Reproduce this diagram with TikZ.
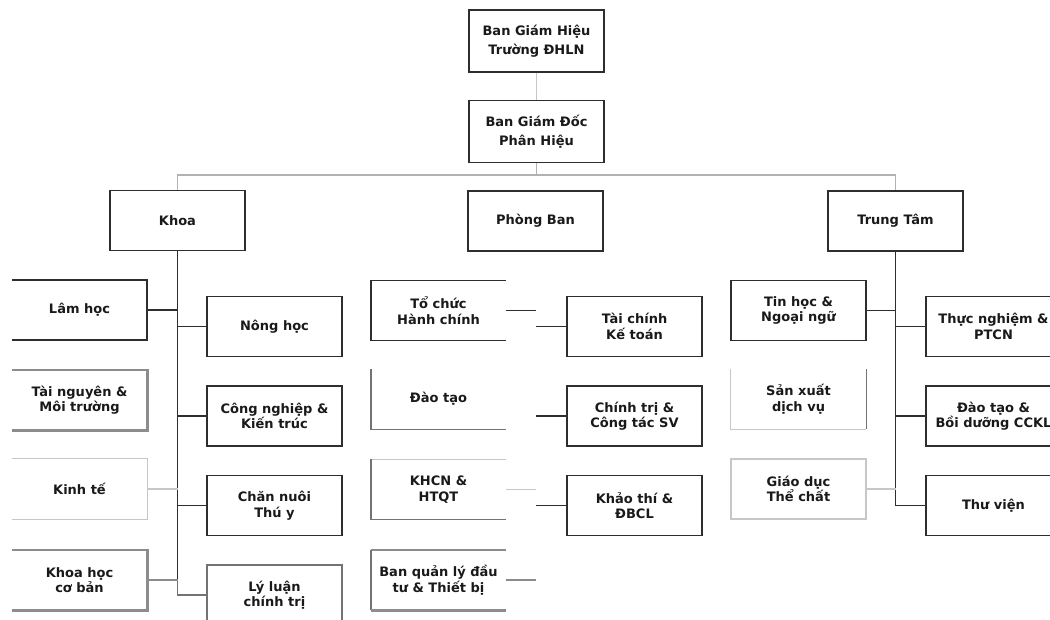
\documentclass[tikz,border=0pt]{standalone}
\usepackage{fontspec}
\setmainfont{DejaVu Sans}
\begin{document}
\begin{tikzpicture}[x=1pt,y=-1pt,
  box/.style={rectangle, minimum width=135pt, minimum height=60pt, inner sep=0pt, align=center,
    font=\fontsize{13}{15.5}\selectfont\bfseries, text=black!90},
  tallbox/.style={box, minimum height=62pt, font=\fontsize{13}{19}\selectfont\bfseries},
  blk/.style={draw=black!82, line width=1.5pt},
  mid/.style={draw=black!55, line width=1.4pt},
  gry/.style={draw=black!45, line width=2.6pt},
  lgt/.style={draw=black!22, line width=1.3pt},
  bus/.style={draw=black!30, line width=1.3pt}
]
\useasboundingbox (0,0) rectangle (1050,619);
\clip (0,0) rectangle (1050,619);

% top levels
\node[tallbox,blk] (bgh) at (536.5,41) {Ban Giám Hiệu\\Trường ĐHLN};
\node[tallbox,blk] (bgd) at (536.5,131.5) {Ban Giám Đốc\\Phân Hiệu};
\node[box,blk] (khoa) at (177.5,220.5) {Khoa};
\node[box,blk] (phong) at (535.5,221) {Phòng Ban};
\node[box,blk] (trung) at (895.5,221) {Trung Tâm};
\coordinate (busc) at (536.5,175);

% Khoa column
\node[box] (lam) at (79.5,310) {Lâm học};
\node[box] (tainguyen) at (79.5,400) {Tài nguyên \&\\Môi trường};
\node[box] (kinhte) at (79.5,489) {Kinh tế};
\node[box] (khcb) at (79.5,580) {Khoa học\\cơ bản};
\node[box,blk] (nong) at (274.5,326.5) {Nông học};
\node[box,blk] (cong) at (274.5,416) {Công nghiệp \&\\Kiến trúc};
\node[box,blk] (chan) at (274.5,505.5) {Chăn nuôi\\Thú y};
\node[box,mid] (lyluan) at (274.5,595) {Lý luận\\chính trị};

% Phong Ban column
\node[box] (tochuc) at (438.5,310.5) {Tổ chức\\Hành chính};
\node[box] (daotao) at (438.5,399) {Đào tạo};
\node[box] (khcn) at (438.5,489.5) {KHCN \&\\HTQT};
\node[box] (bql) at (438.5,580) {Ban quản lý đầu\\tư \& Thiết bị};
\node[box,blk] (taichinh) at (634.5,326.5) {Tài chính\\Kế toán};
\node[box,blk] (chinhtri) at (634.5,416) {Chính trị \&\\Công tác SV};
\node[box,blk] (khaothi) at (634.5,505.5) {Khảo thí \&\\ĐBCL};

% Trung Tam column
\node[box,blk] (tinhoc) at (798.5,310.5) {Tin học \&\\Ngoại ngữ};
\node[box] (sanxuat) at (798.5,399) {Sản xuất\\dịch vụ};
\node[box,lgt] (giaoduc) at (798.5,489) {Giáo dục\\Thể chất};
\node[box,blk] (thucnghiem) at (993.5,326.5) {Thực nghiệm \&\\PTCN};
\node[box,blk] (daotaobd) at (993.5,416) {Đào tạo \&\\Bồi dưỡng CCKL};
\node[box,blk] (thuvien) at (993.5,505.5) {Thư viện};

% partial borders
\draw[blk] (lam.north west) -- (lam.north east) -- (lam.south east) -- (lam.south west);
\draw[gry] (tainguyen.north west) -- (tainguyen.north east) -- (tainguyen.south east) -- (tainguyen.south west);
\draw[lgt] (kinhte.north west) -- (kinhte.north east) -- (kinhte.south east) -- (kinhte.south west);
\draw[gry] (khcb.north west) -- (khcb.north east) -- (khcb.south east) -- (khcb.south west);
\draw[blk] (tochuc.north east) -- (tochuc.north west) -- (tochuc.south west) -- (tochuc.south east);
\draw[mid] (daotao.north west) -- (daotao.south west) -- (daotao.south east);
\draw[lgt] (khcn.north west) -- (khcn.north east);
\draw[mid] (khcn.north west) -- (khcn.south west) -- (khcn.south east);
\draw[gry] (bql.north east) -- (bql.north west);
\draw[mid] (bql.north west) -- (bql.south west);
\draw[gry] (bql.south west) -- (bql.south east);
\draw[lgt] (sanxuat.north west) -- (sanxuat.south west) -- (sanxuat.south east);
\draw[mid] (sanxuat.south east) -- (sanxuat.north east);

% connectors top
\draw[lgt] (bgh.south) -- (bgd.north);
\draw[bus] (bgd.south) -- (busc);
\draw[bus] (khoa.north) |- (busc) -| (trung.north);

% Khoa connectors
\coordinate (kb) at (177.5,580);
\draw[blk] (khoa.south) -- (kb);
\draw[mid] (kb) |- (lyluan.west);
\draw[blk] (lam.east) -- (lam.east -| khoa.south);
\draw[blk] (nong.west) -- (nong.west -| khoa.south);
\draw[blk] (cong.west) -- (cong.west -| khoa.south);
\draw[lgt] (kinhte.east) -- (kinhte.east -| khoa.south);
\draw[blk] (chan.west) -- (chan.west -| khoa.south);
\draw[gry] (khcb.east) -- (khcb.east -| khoa.south);

% Phong Ban connectors (no trunk)
\draw[blk] (tochuc.east) -- (tochuc.east -| phong.south);
\draw[blk] (taichinh.west) -- (taichinh.west -| phong.south);
\draw[blk] (chinhtri.west) -- (chinhtri.west -| phong.south);
\draw[lgt] (khcn.east) -- (khcn.east -| phong.south);
\draw[blk] (khaothi.west) -- (khaothi.west -| phong.south);
\draw[gry] (bql.east) -- (bql.east -| phong.south);

% Trung Tam connectors
\draw[blk] (trung.south) |- (thuvien.west);
\draw[blk] (tinhoc.east) -- (tinhoc.east -| trung.south);
\draw[blk] (thucnghiem.west) -- (thucnghiem.west -| trung.south);
\draw[blk] (daotaobd.west) -- (daotaobd.west -| trung.south);
\draw[lgt] (giaoduc.east) -- (giaoduc.east -| trung.south);
\end{tikzpicture}
\end{document}
